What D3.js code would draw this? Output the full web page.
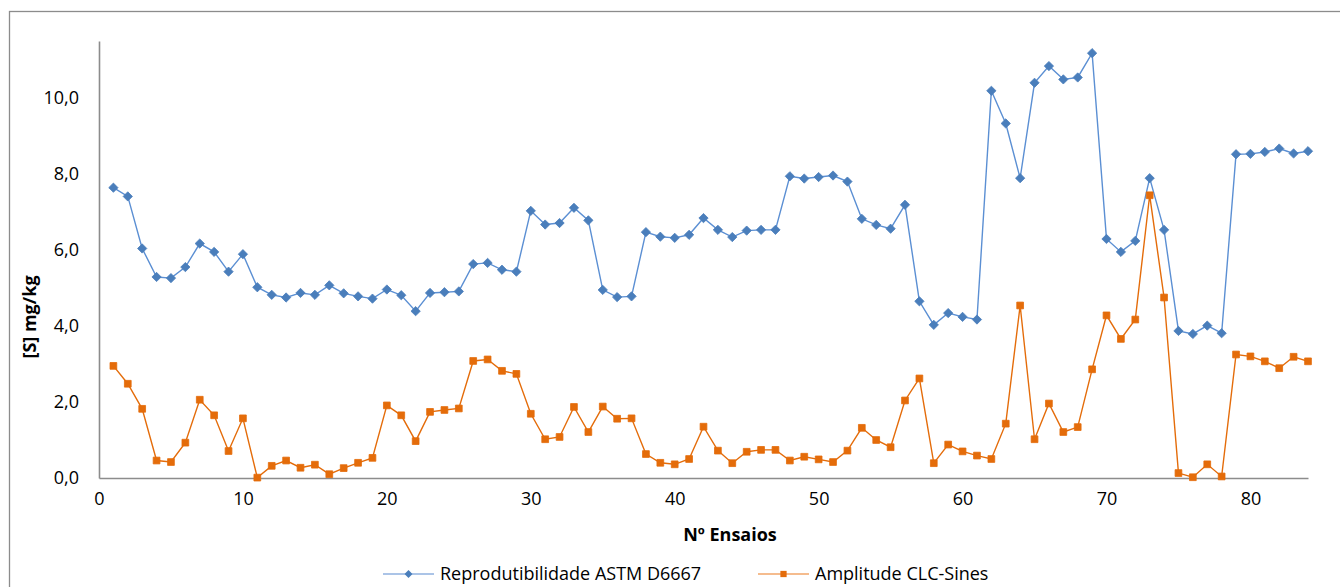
<!DOCTYPE html>
<html>
<head>
<meta charset="utf-8">
<script src="https://cdn.jsdelivr.net/npm/d3@7"></script>
<style>
  html, body { margin: 0; padding: 0; background: #fff; }
  svg { display: block; }
  text { font-family: "Open Sans", "Noto Sans", sans-serif; fill: #000; }
</style>
</head>
<body>
<svg id="chart" width="1340" height="587"></svg>
<script>
// Nº de ensaio (1..84)
const ensaios = d3.range(1, 85);

// Reprodutibilidade ASTM D6667, [S] mg/kg
const reprodutibilidade = [
  7.64, 7.41, 6.04, 5.29, 5.26, 5.55, 6.17, 5.95, 5.43, 5.89,
  5.02, 4.82, 4.75, 4.87, 4.82, 5.07, 4.86, 4.78, 4.72, 4.96,
  4.81, 4.39, 4.87, 4.89, 4.91, 5.63, 5.66, 5.48, 5.43, 7.03,
  6.67, 6.71, 7.11, 6.78, 4.95, 4.76, 4.78, 6.47, 6.35, 6.32,
  6.40, 6.84, 6.53, 6.34, 6.51, 6.53, 6.53, 7.94, 7.88, 7.92,
  7.96, 7.80, 6.82, 6.66, 6.56, 7.19, 4.65, 4.03, 4.34, 4.24,
  4.17, 10.19, 9.33, 7.89, 10.40, 10.84, 10.49, 10.54, 11.18, 6.29,
  5.95, 6.24, 7.89, 6.53, 3.87, 3.79, 4.01, 3.81, 8.52, 8.53,
  8.58, 8.67, 8.54, 8.60
];

// Amplitude CLC-Sines, [S] mg/kg
const amplitude = [
  2.95, 2.48, 1.82, 0.46, 0.42, 0.93, 2.06, 1.65, 0.71, 1.57,
  0.01, 0.32, 0.46, 0.27, 0.35, 0.10, 0.26, 0.40, 0.53, 1.91,
  1.65, 0.97, 1.74, 1.79, 1.83, 3.08, 3.12, 2.82, 2.74, 1.69,
  1.02, 1.08, 1.87, 1.21, 1.88, 1.56, 1.57, 0.63, 0.40, 0.36,
  0.50, 1.35, 0.72, 0.39, 0.69, 0.74, 0.74, 0.46, 0.56, 0.49,
  0.42, 0.72, 1.32, 1.00, 0.81, 2.04, 2.62, 0.39, 0.88, 0.70,
  0.59, 0.50, 1.43, 4.54, 1.02, 1.96, 1.21, 1.34, 2.86, 4.28,
  3.66, 4.17, 7.44, 4.75, 0.13, 0.02, 0.36, 0.04, 3.25, 3.20,
  3.07, 2.89, 3.19, 3.07
];

const xTicks = [0, 10, 20, 30, 40, 50, 60, 70, 80];
const yTicks = [0, 2, 4, 6, 8, 10];
const seriesNames = ["Reprodutibilidade ASTM D6667", "Amplitude CLC-Sines"];

const svg = d3.select("#chart");
const fmtY = v => d3.format(".1f")(v).replace(".", ",");

// Chart frame
svg.append("rect")
  .attr("x", 9.5).attr("y", 11.5)
  .attr("width", 1400).attr("height", 700)
  .attr("fill", "none").attr("stroke", "#8c8c8c").attr("stroke-width", 1.3);

const x = d3.scaleLinear().domain([0, 84]).range([99, 1308]);
const y = d3.scaleLinear().domain([0, 11.5]).range([478, 41]);

const fontSize = 18;

// Axes
const xAxis = svg.append("g").attr("transform", `translate(0,${y(0)})`)
  .call(d3.axisBottom(x).tickValues(xTicks).tickSize(0).tickPadding(14).tickFormat(d3.format("d")));
const yAxis = svg.append("g").attr("transform", `translate(${x(0)},0)`)
  .call(d3.axisLeft(y).tickValues(yTicks).tickSize(0).tickPadding(20).tickFormat(fmtY));

[xAxis, yAxis].forEach(g => {
  g.select(".domain").attr("stroke", "#8c8c8c").attr("stroke-width", 1.6);
  g.selectAll("text").style("font-size", fontSize + "px").attr("fill", "#000")
    .style("font-family", "'Open Sans', 'Noto Sans', sans-serif");
});

// Axis titles
svg.append("text")
  .attr("x", 730).attr("y", 541)
  .attr("text-anchor", "middle")
  .style("font-size", fontSize + "px").style("font-weight", "bold")
  .text("Nº Ensaios");

svg.append("text")
  .attr("transform", "translate(36,317) rotate(-90)")
  .attr("text-anchor", "middle")
  .style("font-size", fontSize + "px").style("font-weight", "bold")
  .text("[S] mg/kg");

// Series
const blueLine = "#5B8FD3", blueMark = "#4A7EBB";
const orange = "#E46C0A";

const line = d3.line().x((d, i) => x(ensaios[i])).y(d => y(d));

svg.append("path").datum(reprodutibilidade)
  .attr("d", line).attr("fill", "none")
  .attr("stroke", blueLine).attr("stroke-width", 1.4);

svg.append("path").datum(amplitude)
  .attr("d", line).attr("fill", "none")
  .attr("stroke", orange).attr("stroke-width", 1.4);

const diamond = d3.symbol().type(d3.symbolDiamond2).size(55);
const square = d3.symbol().type(d3.symbolSquare2).size(58);

svg.append("g").selectAll("path").data(reprodutibilidade).join("path")
  .attr("transform", (d, i) => `translate(${x(ensaios[i])},${y(d)})`)
  .attr("d", diamond).attr("fill", blueMark).attr("stroke", blueMark).attr("stroke-width", 0.8);

svg.append("g").selectAll("path").data(amplitude).join("path")
  .attr("transform", (d, i) => `translate(${x(ensaios[i])},${y(d)})`)
  .attr("d", square).attr("fill", orange).attr("stroke", orange).attr("stroke-width", 0.8);

// Legend
const legend = [
  { name: seriesNames[0], x0: 383, color: "#8FB1DF", mark: blueMark, sym: d3.symbol().type(d3.symbolDiamond2).size(40) },
  { name: seriesNames[1], x0: 758, color: "#F2A669", mark: orange, sym: d3.symbol().type(d3.symbolSquare2).size(50) }
];
const ly = 574;
const lg = svg.append("g").selectAll("g").data(legend).join("g");
lg.append("line")
  .attr("x1", d => d.x0).attr("x2", d => d.x0 + 51)
  .attr("y1", ly).attr("y2", ly)
  .attr("stroke", d => d.color).attr("stroke-width", 1.6);
lg.append("path")
  .attr("transform", d => `translate(${d.x0 + 25.5},${ly})`)
  .attr("d", d => d.sym()).attr("fill", d => d.mark);
lg.append("text")
  .attr("x", d => d.x0 + 57).attr("y", ly + 6)
  .style("font-size", fontSize + "px")
  .text(d => d.name);
</script>
</body>
</html>
